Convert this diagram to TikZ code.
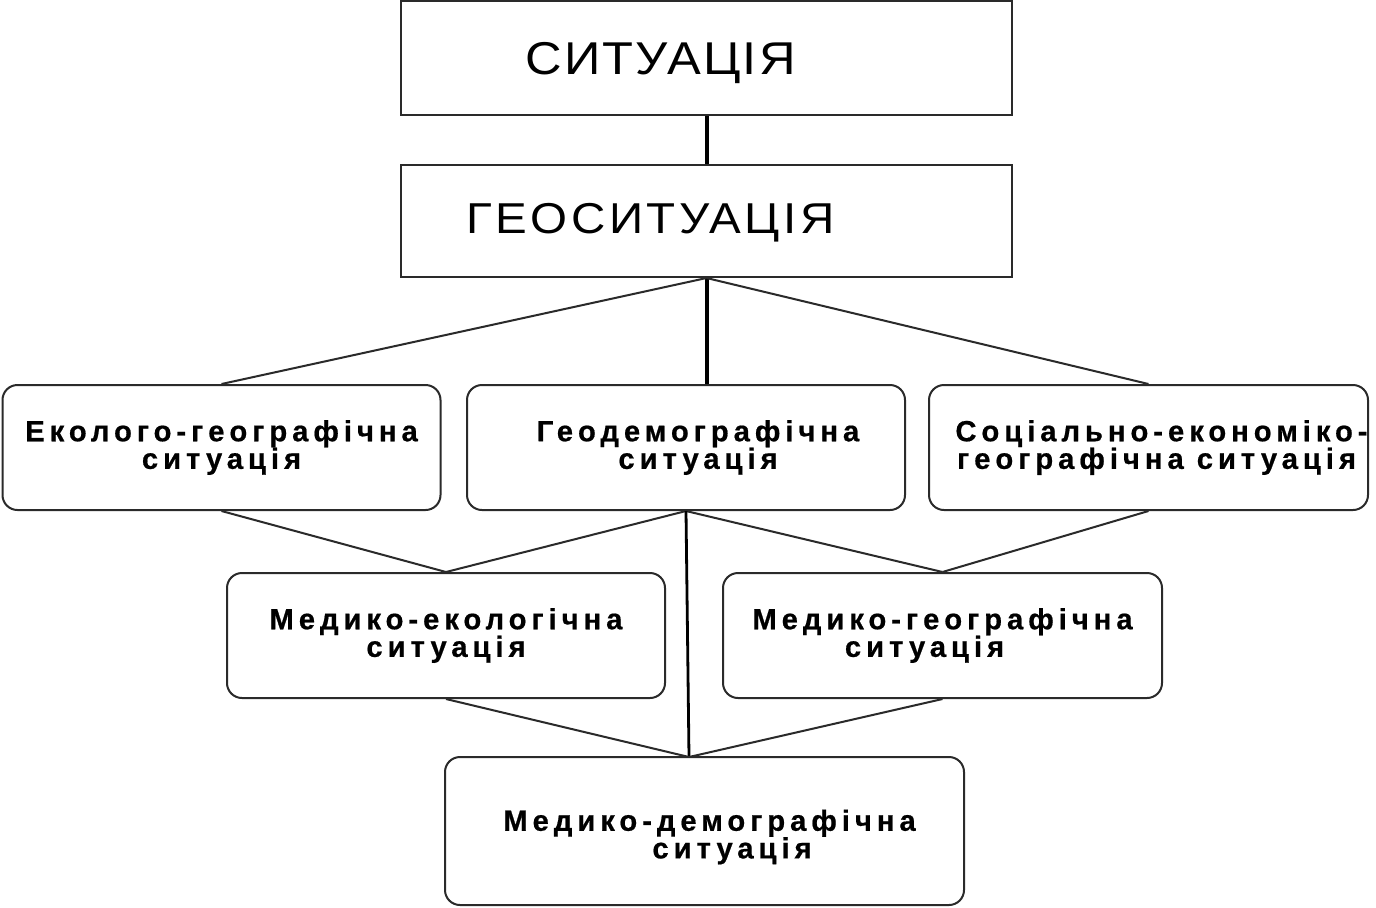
\documentclass[tikz,border=0pt]{standalone}
\usepackage{fontspec}
\setmainfont{Liberation Sans}
\newfontfamily\titlefont[FakeStretch=1.1,LetterSpace=5]{Liberation Sans}
\newfontfamily\geofont[FakeStretch=1.1,LetterSpace=8]{Liberation Sans}
\newfontfamily\boxfont[LetterSpace=17,FakeBold=0.6]{Liberation Sans Bold}
\definecolor{edge}{HTML}{2A2A2A}
\tikzset{
  topbox/.style={draw=edge, line width=1pt, rectangle, minimum width=305.5pt, inner sep=0pt},
  boxtext/.style={align=center, font=\boxfont\fontsize{14.6}{13.8}\selectfont},
  roundbox/.style={draw=edge, line width=1pt, rectangle, rounded corners=7.5pt,
    minimum width=219pt, minimum height=62.5pt, inner sep=0pt, boxtext},
  titletext/.style={font=\titlefont\fontsize{23}{27}\selectfont},
  thickline/.style={line width=2pt, black},
  midline/.style={line width=1.4pt, black},
  thinline/.style={line width=1pt, edge},
}
\begin{document}
\begin{tikzpicture}[x=0.5pt,y=-0.5pt]
\useasboundingbox[fill=white] (0,0) rectangle (1376,907);
% top boxes
\node[topbox, minimum height=57pt,
  label={[titletext, xshift=-23pt, yshift=-2.5pt]center:СИТУАЦІЯ}] (sit) at (706.5,58) {};
\node[topbox, minimum height=56pt,
  label={[font=\geofont\fontsize{21.6}{26}\selectfont, xshift=-28pt, yshift=-1pt]center:ГЕОСИТУАЦІЯ}] (geo) at (706.5,221) {};
% second row
\node[roundbox] (eco) at (221.5,447.5) {Еколого-географічна\\ситуація};
\node[roundbox] (dem) at (686,447.5) {\hspace*{12pt}Геодемографічна\\\hspace*{12pt}ситуація};
\node[roundbox, minimum width=219.5pt] (soc) at (1148.5,447.5)
  {\makebox[0pt]{\hspace*{13pt}Соціально-економіко-}\\\makebox[0pt]{\hspace*{8pt}географічна ситуація}};
% third row
\node[roundbox] (medeco) at (446,635.5) {Медико-екологічна\\ситуація};
\node[roundbox, minimum width=219.5pt] (medgeo) at (942.5,635.5) {Медико-географічна\\\hspace*{-18pt}ситуація};
% bottom
\node[roundbox, minimum width=259.5pt, minimum height=74pt,
  label={[boxtext, yshift=-3pt]center:{\hspace*{5pt}Медико-демографічна\\\hspace*{27.5pt}ситуація}}]
  (meddem) at (704.5,831) {};
\coordinate (v) at (689,757);
% connectors
\draw[thickline] (sit.south) -- (geo.north);
\draw[thickline] (geo.south) -- (geo.south |- dem.north);
\draw[thinline] (geo.south) -- (eco.north);
\draw[thinline] (geo.south) -- (soc.north);
\draw[thinline] (eco.south) -- (medeco.north);
\draw[thinline] (dem.south) -- (medeco.north);
\draw[thinline] (dem.south) -- (medgeo.north);
\draw[thinline] (soc.south) -- (medgeo.north);
\draw[midline] (dem.south) -- (v);
\draw[thinline] (medeco.south) -- (v);
\draw[thinline] (medgeo.south) -- (v);
\end{tikzpicture}
\end{document}
